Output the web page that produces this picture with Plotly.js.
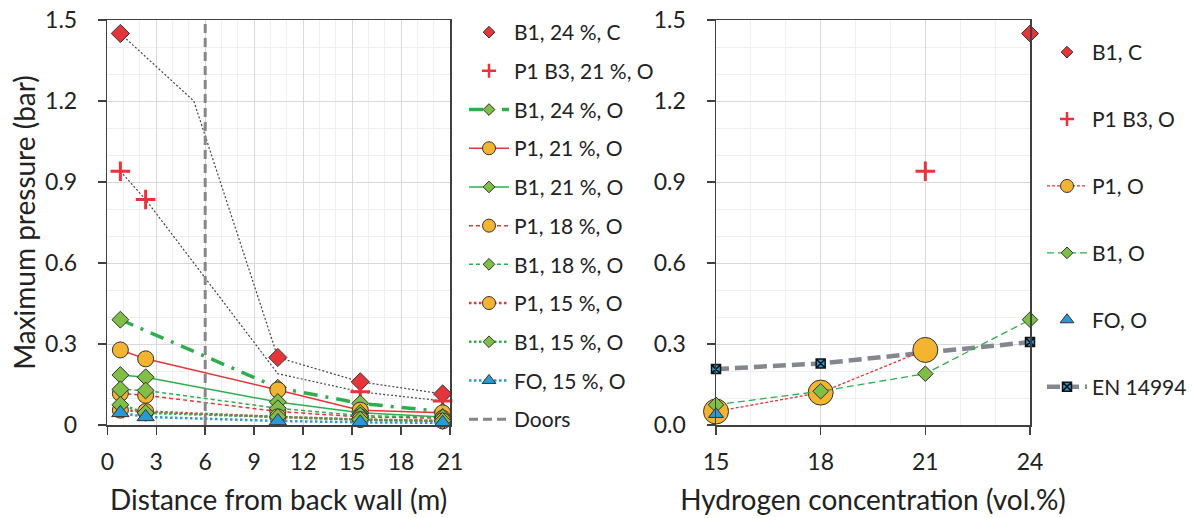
<!DOCTYPE html>
<html><head><meta charset="utf-8">
<script src="https://cdn.plot.ly/plotly-3.0.1.min.js"></script>
<style>html,body{margin:0;padding:0;background:#fff}#chart{width:1194px;height:518px}</style>
</head><body><div id="chart"></div>
<script>
// ---------- Left panel data: distance from back wall (m) ----------
const distAll = [0.8, 2.35, 10.45, 15.5, 20.55];
const distC = [0.8, 10.45, 15.5, 20.55];
const b1_24_C = [1.45, 0.25, 0.16, 0.115];
const distP1B3 = [0.8, 2.35, 15.5, 20.55];
const p1b3_21_O = [0.94, 0.835, 0.123, 0.089];
const distB1_24O = [0.8, 10.45, 15.5, 20.55];
const b1_24_O = [0.39, 0.138, 0.08, 0.05];
const p1_21_O = [0.278, 0.245, 0.13, 0.055, 0.045];
const b1_21_O = [0.185, 0.177, 0.085, 0.045, 0.03];
const p1_18_O = [0.117, 0.11, 0.05, 0.03, 0.025];
const b1_18_O = [0.132, 0.128, 0.062, 0.035, 0.028];
const p1_15_O = [0.055, 0.05, 0.03, 0.02, 0.015];
const b1_15_O = [0.075, 0.045, 0.03, 0.02, 0.015];
const fo_15_O = [0.045, 0.03, 0.015, 0.01, 0.008];
// thin dotted guide lines
const guideCX = [0.8, 5.3, 10.45, 15.5, 20.55];
const guideCY = [1.45, 1.2, 0.25, 0.16, 0.115];
const guideBX = [0.8, 2.35, 10.45, 15.5, 20.55];
const guideBY = [0.94, 0.835, 0.19, 0.123, 0.089];
const doorsX = [6, 6];
const doorsY = [0, 1.5];

// ---------- Right panel data: hydrogen concentration (vol.%) ----------
const concB1C = [24];
const valB1C = [1.45];
const concP1B3 = [21];
const valP1B3 = [0.94];
const concP1 = [15, 18, 21];
const valP1 = [0.05, 0.12, 0.278];
const concB1 = [15, 18, 21, 24];
const valB1 = [0.075, 0.125, 0.19, 0.39];
const concFO = [15];
const valFO = [0.04];
const concEN = [15, 18, 21, 24];
const valEN = [0.207, 0.228, 0.268, 0.307];

const leftNames = ['B1, 24 %, C', 'P1 B3, 21 %, O', 'B1, 24 %, O', 'P1, 21 %, O', 'B1, 21 %, O',
  'P1, 18 %, O', 'B1, 18 %, O', 'P1, 15 %, O', 'B1, 15 %, O', 'FO, 15 %, O', 'Doors'];
const rightNames = ['B1, C', 'P1 B3, O', 'P1, O', 'B1, O', 'FO, O', 'EN 14994'];
const yTickVals = [0, 0.3, 0.6, 0.9, 1.2, 1.5];
const yTickTextL = ['0', '0.3', '0.6', '0.9', '1.2', '1.5'];
const yTickTextR = ['0.0', '0.3', '0.6', '0.9', '1.2', '1.5'];
const xTicksL = [0, 3, 6, 9, 12, 15, 18, 21];
const xTicksR = [15, 18, 21, 24];

const RED = '#e5343a', GREEN = '#2fae4e', GFILL = '#7fbf45', ORANGE = '#f2b431', BLUE = '#2a9ad6', GRAY = '#84878d', EDGE = '#333333';

const traces = [];
const legendTraces = [];
traces.push({x: guideCX, y: guideCY, mode: 'lines', line: {color: '#444', width: 1.2, dash: '2px,2px'}, showlegend: false, hoverinfo: 'skip', xaxis: 'x', yaxis: 'y'});
traces.push({x: guideBX, y: guideBY, mode: 'lines', line: {color: '#444', width: 1.2, dash: '2px,2px'}, showlegend: false, hoverinfo: 'skip', xaxis: 'x', yaxis: 'y'});

// each series: one trace drawn in the plot, plus a legend entry with smaller legend symbol
function mk(name, x, y, mode, line, marker, legMarker, k, side) {
  const xa = side === 'L' ? 'x' : 'x2', ya = side === 'L' ? 'y' : 'y2';
  const t = {type: 'scatter', name: name, x: x, y: y, mode: mode, cliponaxis: false, xaxis: xa, yaxis: ya, showlegend: false};
  if (line) t.line = line;
  if (marker) t.marker = marker;
  traces.push(t);
  const lg = {type: 'scatter', name: name, x: [null], y: [null], mode: mode, xaxis: xa, yaxis: ya,
    legend: side === 'L' ? 'legend' : 'legend2', legendgroup: side + k, legendrank: k + 1, showlegend: true};
  if (line) lg.line = line;
  if (legMarker) lg.marker = legMarker;
  legendTraces.push(lg);
}
const dia = s => ({symbol: 'diamond', size: s, color: GFILL, line: {color: EDGE, width: 1}});
const cir = s => ({symbol: 'circle', size: s, color: ORANGE, line: {color: EDGE, width: 1}});
const rdia = s => ({symbol: 'diamond', size: s, color: RED, line: {color: EDGE, width: 1}});
const plus = (s, w) => ({symbol: 'cross-thin', size: s, color: RED, line: {color: RED, width: w}});
const tri = s => ({symbol: 'triangle-up', size: s, color: BLUE, line: {color: EDGE, width: 1}});
const sqx = s => ({symbol: 'square-x', size: s, color: BLUE, line: {color: '#111', width: 1.5}});

mk(leftNames[0], distC, b1_24_C, 'markers', null, rdia(14), rdia(9), 0, 'L');
mk(leftNames[1], distP1B3, p1b3_21_O, 'markers', null, plus(14, 3), plus(10, 2.5), 1, 'L');
mk(leftNames[2], distB1_24O, b1_24_O, 'lines+markers', {color: GREEN, width: 3.5, dash: '14px,8px,3px,8px'}, dia(13), dia(9), 2, 'L');
mk(leftNames[3], distAll, p1_21_O, 'lines+markers', {color: RED, width: 1.5}, cir(16), cir(13), 3, 'L');
mk(leftNames[4], distAll, b1_21_O, 'lines+markers', {color: GREEN, width: 1.5}, dia(13), dia(9), 4, 'L');
mk(leftNames[5], distAll, p1_18_O, 'lines+markers', {color: RED, width: 1.5, dash: '4px,3px'}, cir(16), cir(13), 5, 'L');
mk(leftNames[6], distAll, b1_18_O, 'lines+markers', {color: GREEN, width: 1.5, dash: '4px,3px'}, dia(13), dia(9), 6, 'L');
mk(leftNames[7], distAll, p1_15_O, 'lines+markers', {color: RED, width: 2.5, dash: '2.5px,2.5px'}, cir(16), cir(13), 7, 'L');
mk(leftNames[8], distAll, b1_15_O, 'lines+markers', {color: GREEN, width: 2.5, dash: '2.5px,2.5px'}, dia(13), dia(9), 8, 'L');
mk(leftNames[9], distAll, fo_15_O, 'lines+markers', {color: BLUE, width: 2.5, dash: '2.5px,2.5px'}, tri(15), tri(12), 9, 'L');
mk(leftNames[10], doorsX, doorsY, 'lines', {color: GRAY, width: 3, dash: '9px,5px'}, null, null, 10, 'L');

mk(rightNames[0], concB1C, valB1C, 'markers', null, rdia(13), rdia(9), 0, 'R');
mk(rightNames[1], concP1B3, valP1B3, 'markers', null, plus(14, 3), plus(10, 2.5), 1, 'R');
mk(rightNames[5], concEN, valEN, 'lines+markers', {color: GRAY, width: 4.5, dash: '13px,6px'}, sqx(9), sqx(9), 5, 'R');
mk(rightNames[2], concP1, valP1, 'lines+markers', {color: RED, width: 1.3, dash: '3px,2px'}, cir(25), cir(13), 2, 'R');
mk(rightNames[3], concB1, valB1, 'lines+markers', {color: GREEN, width: 1.3, dash: '7px,4px'}, dia(12), dia(9), 3, 'R');
mk(rightNames[4], concFO, valFO, 'markers', null, tri(13), tri(12), 4, 'R');

const FONT = 'Lato, "Open Sans", sans-serif';
const W = 1194, H = 518;
const px = v => v / W, py = v => 1 - v / H;

function xax(dom, range, ticks, title, anchor) {
  return {domain: dom, range: range, tickvals: ticks, ticks: 'outside', ticklen: 8, tickwidth: 1.5, tickcolor: '#404040',
    showline: true, linecolor: '#404040', linewidth: 1.5, mirror: true, zeroline: false,
    showgrid: true, gridcolor: '#d9d9d9', gridwidth: 1,
    minor: {dtick: 1, showgrid: true, gridcolor: '#efefef', gridwidth: 1},
    tickfont: {size: 23, color: '#222'}, ticklabelstandoff: 8, anchor: anchor,
    title: {text: title, font: {size: 28, color: '#222'}, standoff: 16}, automargin: false, fixedrange: true};
}
function yax(dom, ticktext, title, anchor) {
  const a = {domain: dom, range: [0, 1.5], tickvals: yTickVals, ticktext: ticktext, ticks: 'outside', ticklen: 8, tickwidth: 1.5, tickcolor: '#404040',
    showline: true, linecolor: '#404040', linewidth: 1.5, mirror: true, zeroline: false,
    showgrid: true, gridcolor: '#d9d9d9', gridwidth: 1,
    minor: {dtick: 0.1, showgrid: true, gridcolor: '#efefef', gridwidth: 1},
    tickfont: {size: 23, color: '#222'}, ticklabelstandoff: 16, anchor: anchor, automargin: false, fixedrange: true};
  if (title) a.title = {text: title, font: {size: 28, color: '#222'}, standoff: 1};
  return a;
}

const yDom = [py(425), py(20)];
const layout = {
  width: W, height: H, margin: {l: 0, r: 0, t: 0, b: 0},
  paper_bgcolor: '#fff', plot_bgcolor: '#fff',
  font: {family: FONT, color: '#222'},
  xaxis: xax([px(107.3), px(450)], [0, 21], xTicksL, 'Distance from back wall (m)', 'y'),
  yaxis: yax(yDom, yTickTextL, 'Maximum pressure (bar)', 'x'),
  xaxis2: xax([px(716), px(1030)], [15, 24], xTicksR, 'Hydrogen concentration (vol.%)', 'y2'),
  yaxis2: yax(yDom, yTickTextR, null, 'x2'),
  legend: {x: px(464), y: py(12), xanchor: 'left', yanchor: 'top', tracegroupgap: 8.4, itemwidth: 40,
    font: {size: 21, color: '#222'}, bgcolor: 'rgba(0,0,0,0)', itemsizing: 'trace', traceorder: 'grouped'},
  legend2: {x: px(1042), y: py(32), xanchor: 'left', yanchor: 'top', tracegroupgap: 36.6, itemwidth: 40,
    font: {size: 21, color: '#222'}, bgcolor: 'rgba(0,0,0,0)', itemsizing: 'trace', traceorder: 'grouped'},
  showlegend: true
};
Plotly.newPlot('chart', traces.concat(legendTraces), layout, {staticPlot: true, displayModeBar: false});
</script>
</body></html>
